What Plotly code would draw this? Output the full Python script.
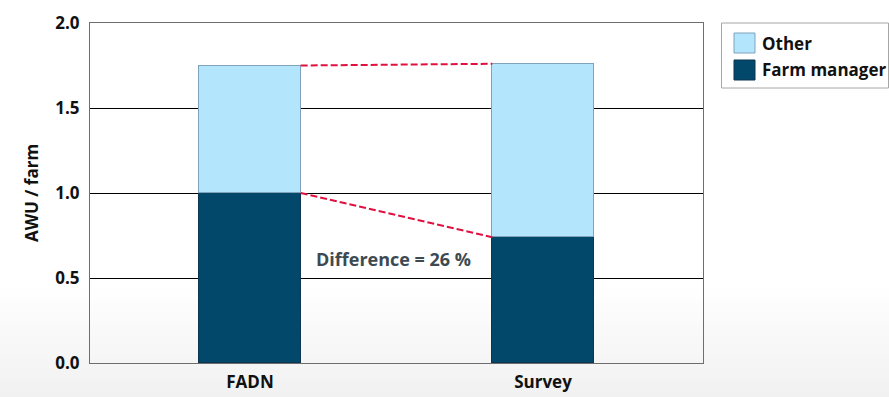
import plotly.graph_objects as go

# AWU per farm, split into farm manager and other labour
sources = ["FADN", "Survey"]
farm_manager = [1.00, 0.74]
other = [0.75, 1.02]
series_names = ["Other", "Farm manager"]
y_ticks = [0.0, 0.5, 1.0, 1.5, 2.0]

C_MANAGER = "#02486b"
C_OTHER = "#b3e5fc"
C_RED = "#e0103f"
FONT = "Open Sans"

x_pos = list(range(len(sources)))
bar_w = 0.346
totals = [m + o for m, o in zip(farm_manager, other)]
diff_pct = round((1 - farm_manager[1] / farm_manager[0]) * 100)

fig = go.Figure()
fig.add_trace(go.Bar(
    x=x_pos, y=farm_manager, width=bar_w, name=series_names[1],
    marker=dict(color=C_MANAGER, line=dict(color="#0b3550", width=1)),
    showlegend=False, hoverinfo="skip"))
fig.add_trace(go.Bar(
    x=x_pos, y=other, width=bar_w, name=series_names[0],
    marker=dict(color=C_OTHER, line=dict(color="#7fa3ba", width=1)),
    showlegend=False, hoverinfo="skip"))

# dashed connectors between bar edges
x_link = [x_pos[0] + bar_w / 2, x_pos[1] - bar_w / 2]
for ys in (totals, farm_manager):
    fig.add_trace(go.Scatter(
        x=x_link, y=ys, mode="lines",
        line=dict(color=C_RED, width=2, dash="7px,3px"),
        showlegend=False, hoverinfo="skip"))

fig.add_annotation(
    x=0.49, y=0.61, xref="x", yref="y", showarrow=False,
    text=f"<b>Difference = {diff_pct} %</b>",
    font=dict(family=FONT, size=18, color="#3d4a52"))

# soft grey fade towards the bottom of the page
shapes = []
n_bands = 24
top_px, bot_px = 285, 397
plot_top, plot_bot, plot_h = 23, 363, 340
plot_l, plot_w = 90, 613
for i in range(n_bands):
    y0px = top_px + (bot_px - top_px) * i / n_bands
    y1px = top_px + (bot_px - top_px) * (i + 1) / n_bands
    g = int(round(255 - 14 * (i + 0.5) / n_bands))
    shapes.append(dict(
        type="rect", xref="paper", yref="paper", layer="below",
        x0=-plot_l / plot_w, x1=(889 - plot_l) / plot_w,
        y0=(plot_bot - y1px) / plot_h, y1=(plot_bot - y0px) / plot_h + 0.002,
        fillcolor=f"rgb({g},{g},{g})", line=dict(width=0)))

# legend box drawn with shapes
def px_x(px):
    return (px - plot_l) / plot_w

def px_y(py):
    return (plot_bot - py) / plot_h

shapes.append(dict(type="rect", xref="paper", yref="paper",
                   x0=px_x(721.5), x1=px_x(888.5), y0=px_y(88), y1=px_y(23),
                   fillcolor="white", line=dict(color="#a6a6a6", width=1)))
legend_items = [(series_names[0], C_OTHER, "#7fa3ba", 33), (series_names[1], C_MANAGER, "#0b3550", 60)]
for name, fill, edge, top in legend_items:
    shapes.append(dict(type="rect", xref="paper", yref="paper",
                       x0=px_x(734), x1=px_x(755), y0=px_y(top + 20), y1=px_y(top),
                       fillcolor=fill, line=dict(color=edge, width=1)))
    fig.add_annotation(
        x=px_x(760), y=px_y(top + 10), xref="paper", yref="paper",
        xanchor="left", yanchor="middle", showarrow=False,
        text=f"<b>{name}</b>", font=dict(family=FONT, size=17, color="#111111"))

fig.update_layout(
    width=889, height=397,
    margin=dict(l=plot_l, r=889 - plot_l - plot_w, t=plot_top, b=397 - plot_bot),
    barmode="stack", bargap=0,
    paper_bgcolor="white", plot_bgcolor="white",
    shapes=shapes,
    font=dict(family=FONT, color="#111111"),
)
fig.update_xaxes(
    range=[-0.546, 1.546], tickvals=x_pos, automargin=False,
    ticktext=[f"<b>{s}</b>" for s in sources],
    tickfont=dict(family=FONT, size=17, color="#111111"),
    showgrid=False, zeroline=False, ticks="outside", ticklen=4, tickcolor="rgba(0,0,0,0)",
    showline=True, linecolor="#6e6e6e", linewidth=1, mirror=True)
fig.update_yaxes(
    range=[0, 2.0], tickvals=y_ticks, automargin=False,
    ticktext=[f"<b>{v:.1f}</b>" for v in y_ticks],
    tickfont=dict(family=FONT, size=17, color="#111111"),
    showgrid=True, gridcolor="black", gridwidth=1, zeroline=False,
    ticks="outside", ticklen=6, tickcolor="rgba(0,0,0,0)",
    showline=True, linecolor="#6e6e6e", linewidth=1, mirror=True,
    title=dict(text="<b>AWU / farm</b>", font=dict(family=FONT, size=17, color="#111111"), standoff=12))

fig.write_html("out.html")
